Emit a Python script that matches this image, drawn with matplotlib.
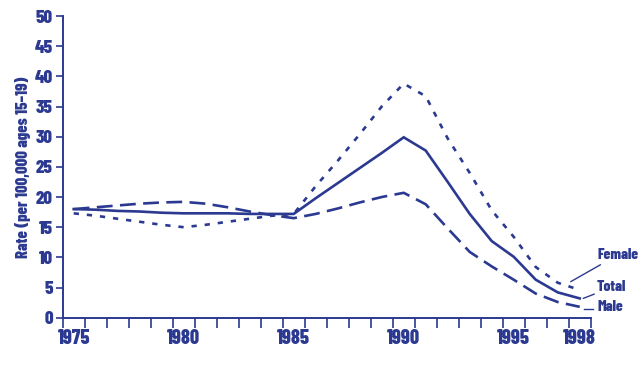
import matplotlib.pyplot as plt

years = list(range(1975, 1999))
total = [18.0, 17.9, 17.7, 17.6, 17.4, 17.3, 17.3, 17.3, 17.2, 17.2, 17.2,
         19.8, 22.3, 24.8, 27.3, 29.9, 27.7, 22.5, 17.2, 12.7, 10.1, 6.3, 4.2, 3.2]
female = [17.3, 16.9, 16.4, 15.9, 15.4, 15.0, 15.4, 15.9, 16.4, 16.9, 17.2,
          21.8, 26.0, 30.4, 35.0, 38.8, 36.7, 29.7, 24.0, 17.8, 13.4, 8.4, 5.8, 4.6]
male = [18.0, 18.3, 18.6, 18.9, 19.1, 19.2, 18.9, 18.3, 17.6, 17.0, 16.5,
        17.2, 18.1, 19.1, 20.0, 20.7, 18.8, 14.8, 10.9, 8.5, 6.3, 4.0, 2.6, 1.8]
xlabels = [1975, 1980, 1985, 1990, 1995, 1998]
ylabels = list(range(0, 55, 5))

navy = '#2b3990'
plt.rcParams['font.family'] = ['Barlow Condensed', 'DejaVu Sans']
plt.rcParams['font.weight'] = 800

fig = plt.figure(figsize=(6.43, 3.69), dpi=100)
ax = fig.add_axes([0.0975, 0.139, 0.8212, 0.8176])

ax.plot(years, total, color=navy, linewidth=1.9, solid_joinstyle='miter')
ax.plot(years, female, color=navy, linewidth=1.9, dashes=(2.0, 3.0))
ax.plot(years, male, color=navy, linewidth=1.9, dashes=(6, 2.8))

ax.set_xlim(1974.5, 1998.5)
ax.set_ylim(0, 50)
ax.spines['top'].set_visible(False)
ax.spines['right'].set_visible(False)
for s in ['left', 'bottom']:
    ax.spines[s].set_color(navy)
    ax.spines[s].set_linewidth(1.4)

ax.set_xticks(xlabels)
ax.set_xticklabels([str(x) for x in xlabels])
ax.set_xticks([1974.5 + i for i in range(25)], minor=True)
ax.tick_params(axis='x', which='major', length=0, pad=8, labelsize=14.5, labelcolor=navy)
ax.tick_params(axis='x', which='minor', length=7, width=1.2, color=navy)
ax.set_yticks(ylabels)
ax.tick_params(axis='y', length=5, width=1.2, color=navy, labelsize=13.5, labelcolor=navy, pad=2)
for lab in ax.get_xticklabels() + ax.get_yticklabels():
    lab.set_fontweight(800)

ax.set_ylabel('Rate (per 100,000 ages 15\u201319)', color=navy, fontsize=12,
              fontweight=800, labelpad=3)

# series labels with leader lines
ax.annotate('Female', xy=(1997.59, 5.97), xytext=(1998.79, 10.4), color=navy,
            fontsize=11, fontweight=800, va='center', annotation_clip=False,
            arrowprops=dict(arrowstyle='-', color=navy, lw=1, shrinkA=0, shrinkB=0))
ax.annotate('Total', xy=(1998.16, 3.2), xytext=(1998.79, 5.04), color=navy,
            fontsize=11, fontweight=800, va='center', annotation_clip=False,
            arrowprops=dict(arrowstyle='-', color=navy, lw=1, shrinkA=0, shrinkB=0))
ax.annotate('Male', xy=(1998.21, 1.44), xytext=(1998.79, 1.82), color=navy,
            fontsize=11, fontweight=800, va='center', annotation_clip=False)
ax.plot([1998.21, 1998.62], [1.44, 1.44], color=navy, lw=1, clip_on=False)

fig.savefig('out.png', dpi=100)
